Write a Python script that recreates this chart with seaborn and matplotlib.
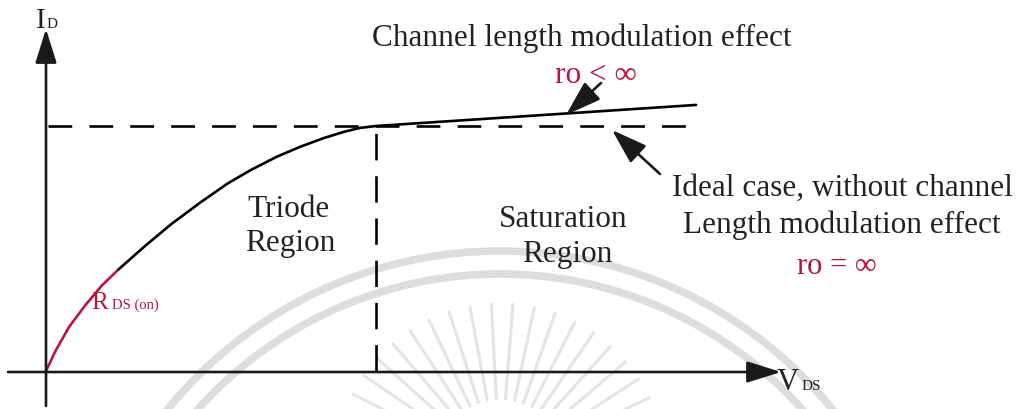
import numpy as np
import pandas as pd
import matplotlib.pyplot as plt
from matplotlib.patches import Arc
import seaborn as sns

# I-V curve of the MOSFET (V_DS normalised to V_sat = 1, I_D normalised to I_sat = 1)
vds = [0, 0.03, 0.07, 0.12, 0.17, 0.22, 0.30, 0.38, 0.47, 0.55, 0.62, 0.70, 0.77,
       0.84, 0.90, 0.95, 1.0, 1.97]
ids = [0, 0.085, 0.18, 0.27, 0.35, 0.415, 0.51, 0.60, 0.69, 0.765, 0.82, 0.875, 0.915,
       0.950, 0.975, 0.992, 1.0, 1.086]
rds_end = 0.22          # red R_DS(on) part of the curve ends here
ideal_level = 1.0       # ideal saturation current
ideal_v = [0.006, 1.958]
sat_v = 1.0

TEXT = '#222222'
RED = '#b8163f'

sns.set_theme(style='white')
plt.rcParams['font.family'] = ['Liberation Serif', 'DejaVu Serif']

fig = plt.figure(figsize=(10.19, 4.10), dpi=100)

# faint watermark seal behind the drawing (pixel coordinates)
bg = fig.add_axes([0, 0, 1, 1])
bg.set_xlim(0, 1019)
bg.set_ylim(410, 0)
bg.axis('off')
for r in (428, 405):
    bg.add_patch(Arc((500, 680), 2 * r, 2 * r, theta1=0, theta2=360,
                     color='#dddddd', lw=5.5))
for a in np.deg2rad(np.arange(18, 163, 7.5)):
    bg.plot([500 + 70 * np.cos(a), 500 + 165 * np.cos(a)],
            [470 - 70 * np.sin(a), 470 - 165 * np.sin(a)],
            color='#e4e4e4', lw=2.2, solid_capstyle='round')

ax = fig.add_axes([0, 0, 1, 1])
ax.patch.set_alpha(0)
ax.set_xlim(-46 / 330, (1019 - 46) / 330)
ax.set_ylim((372 - 410) / 245, 372 / 245)
ax.axis('off')


def px(x, y):
    """pixel position -> data position"""
    return (x - 46) / 330, (372 - y) / 245


df = pd.DataFrame({'vds': vds, 'ids': ids})
rds = df[df.vds <= rds_end].assign(part='rds')
rest = df[df.vds >= rds_end].assign(part='rest')
curve = pd.concat([rds, rest], ignore_index=True)
sns.lineplot(data=curve, x='vds', y='ids', hue='part', palette={'rds': RED, 'rest': 'black'},
             lw=1.9, legend=False, sort=True, estimator=None, ax=ax)

# ideal (no CLM) level and triode / saturation boundary
ax.plot(ideal_v, [ideal_level, ideal_level], color='black', lw=1.9, dashes=(9, 6.5))
ax.plot([sat_v, sat_v], [0, ideal_level], color='black', lw=1.9, dashes=(10, 6))

# axes with arrow heads
arrow = dict(arrowstyle='-|>,head_length=1.05,head_width=0.33', color='#1a1a1a',
             lw=1.9, mutation_scale=20, shrinkA=0, shrinkB=0)
ax.annotate('', xy=px(46, 30), xytext=px(46, 407), arrowprops=arrow)
ax.annotate('', xy=px(781, 373), xytext=px(8, 373), arrowprops=arrow)

# pointer arrows
pointer = dict(arrowstyle='-|>,head_length=1.1,head_width=0.36', color='#1a1a1a',
               lw=1.9, mutation_scale=20, shrinkA=0, shrinkB=0)
ax.annotate('', xy=px(566, 116), xytext=px(601, 84), arrowprops=pointer)
ax.annotate('', xy=px(612, 131), xytext=px(660, 175), arrowprops=pointer)

# labels
FS = 22.5
ax.text(*px(36, 28), 'I', fontsize=21, color=TEXT, va='baseline')
ax.text(*px(47, 28), 'D', fontsize=11, color=TEXT, va='baseline')
ax.text(*px(777, 390), 'V', fontsize=22, color=TEXT, va='baseline')
ax.text(*px(802, 390), 'DS', fontsize=11, color=TEXT, va='baseline')
ax.text(*px(91, 309), 'R', fontsize=18, color=RED, va='baseline')
ax.text(*px(112, 309), 'DS (on)', fontsize=10.5, color=RED, va='baseline')

ax.text(*px(372, 46), 'Channel length modulation effect', fontsize=FS, color=TEXT, va='baseline')
ax.text(*px(555, 83), 'ro < \u221e', fontsize=FS, color=RED, va='baseline')
ax.text(*px(672, 196), 'Ideal case, without channel', fontsize=FS, color=TEXT, va='baseline')
ax.text(*px(683, 233), 'Length modulation effect', fontsize=FS, color=TEXT, va='baseline')
ax.text(*px(837, 274), 'ro = \u221e', fontsize=22, color=RED, va='baseline', ha='center')

ax.text(*px(289, 217), 'Triode', fontsize=FS, color=TEXT, va='baseline', ha='center')
ax.text(*px(290, 251), 'Region', fontsize=FS, color=TEXT, va='baseline', ha='center')
ax.text(*px(563, 227), 'Saturation', fontsize=FS, color=TEXT, va='baseline', ha='center')
ax.text(*px(567, 262), 'Region', fontsize=FS, color=TEXT, va='baseline', ha='center')

fig.savefig('out.png', dpi=100)
